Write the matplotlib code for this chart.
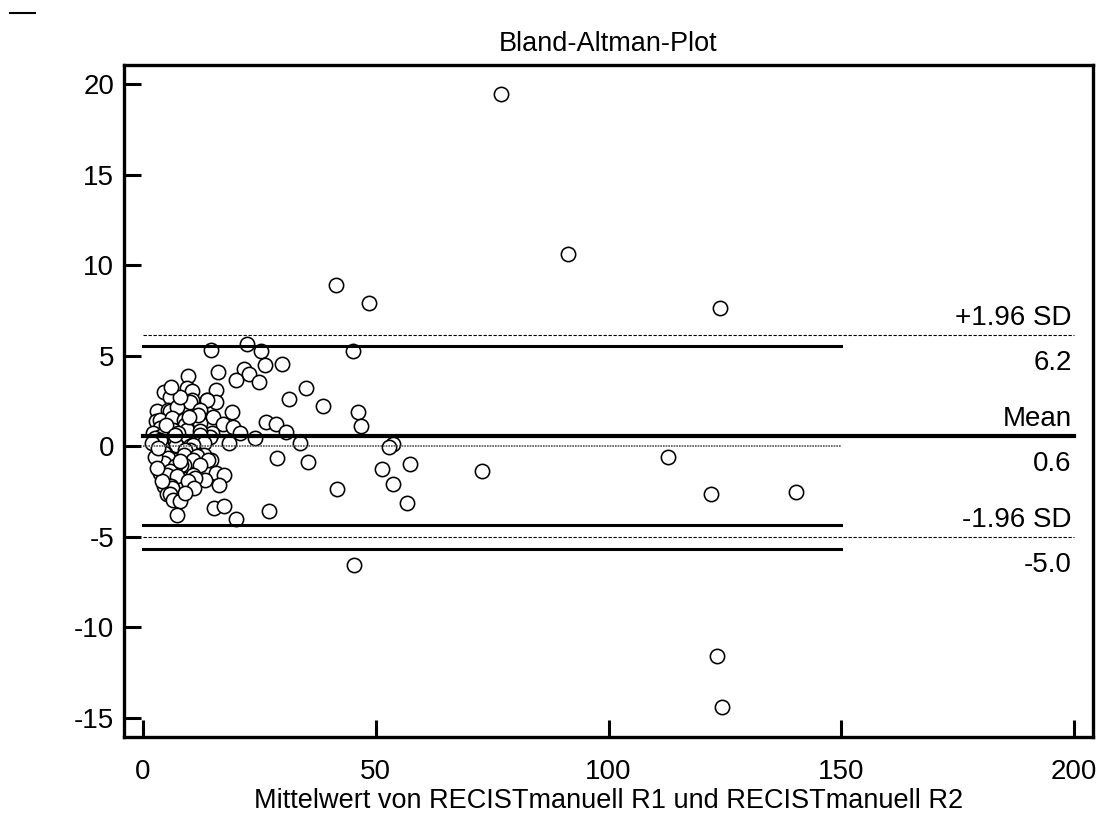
import numpy as np
import matplotlib
matplotlib.use('Agg')
from matplotlib import pyplot as plt
from matplotlib.lines import Line2D

plt.rcParams['font.family'] = ['Liberation Sans', 'DejaVu Sans']
plt.rcParams['axes.unicode_minus'] = False

# mean of the two readings (x) and their difference (y)
mean_vals = [76.9, 91.3, 124.0, 41.4, 48.6, 45.0, 35.0, 38.6, 46.2, 46.8, 33.7, 53.6, 52.8,
             35.4, 51.3, 57.4, 72.8, 41.7, 53.8, 56.7, 45.3, 112.8, 122.0, 140.3, 123.3, 124.4,
             14.7, 22.3, 25.3, 16.0, 21.6, 22.7, 19.9, 26.2, 29.9, 25.0, 15.7, 31.4, 13.8, 15.7,
             19.0, 15.1, 17.1, 19.3, 20.8, 14.8, 26.4, 28.6, 30.8, 24.1, 18.4, 12.6, 28.7, 14.7,
             15.7, 17.3, 13.3, 16.3, 15.3, 17.4, 19.9, 27.1, 14.4,
             9.7, 9.4, 10.6, 4.4, 5.8, 10.5, 10.1, 13.7, 2.9, 5.4, 5.8, 7.2, 12.2, 2.8, 3.65,
             6.2, 8.7, 11.5, 12.3, 8.9, 4.0, 3.6, 6.5, 9.4, 12.2, 2.2, 7.5, 12.3, 3.9, 2.6,
             6.5, 3.65, 6.9, 9.0, 13.0, 7.2, 10.1, 10.8, 7.0, 10.1, 8.9, 3.6, 4.7, 4.4, 8.7,
             12.2, 13.0, 11.5, 5.4, 14.0, 10.8, 3.6, 4.4, 8.7, 12.3, 8.2, 6.9, 5.8, 3.65, 5.1,
             10.8, 7.2, 11.1, 9.7, 4.4, 6.0, 6.2, 5.1, 5.8, 6.4, 7.9, 7.3, 4.0, 2.5, 2.0, 3.0,
             8.0, 11.0, 9.0, 6.0, 5.0, 8.0, 3.2, 11.8, 9.8, 6.8]
diff_vals = [19.45, 10.6, 7.64, 8.88, 7.89, 5.24, 3.22, 2.21, 1.9, 1.14, 0.19, 0.15, -0.05,
             -0.88, -1.23, -0.97, -1.36, -2.37, -2.06, -3.14, -6.58, -0.57, -2.61, -2.50, -11.6, -14.4,
             5.33, 5.65, 5.24, 4.10, 4.29, 4.01, 3.68, 4.47, 4.56, 3.55, 3.09, 2.59, 2.54, 2.47,
             1.91, 1.62, 1.23, 1.05, 0.74, 0.74, 1.36, 1.25, 0.79, 0.44, 0.20, 0.28, -0.66, -0.75,
             -1.47, -1.56, -1.84, -2.15, -3.40, -3.31, -4.0, -3.55, 0.5,
             3.86, 3.22, 3.06, 2.98, 2.74, 2.58, 2.45, 2.58, 1.93, 2.02, 1.93, 2.17, 2.02, 1.38, 1.47,
             1.56, 1.47, 1.38, 1.29, 1.20, 1.01, 1.01, 0.92, 0.92, 0.83, 0.74, 0.74, 0.64, 0.55, 0.46,
             0.46, 0.37, 0.27, 0.18, 0.18, 0.0, 0.0, 0.09, 0.09, -0.18, -0.18, -0.28, -0.37, -0.37, -0.46,
             -0.46, -0.46, -0.55, -0.64, -0.74, -0.74, -0.92, -0.92, -1.01, -1.01, -1.01, -1.1, -1.38, -1.47, -1.56,
             -1.56, -1.65, -1.75, -1.93, -2.2, -2.2, -2.29, -2.66, -2.66, -2.95, -3.03, -3.77, -1.9, -0.6, 0.2, -1.2,
             2.7, -2.3, -2.6, 3.3, 1.2, -0.8, -0.1, 1.7, 1.6, 0.6]

mean_diff = 0.58
upper_loa = 6.15
lower_loa = -5.02
upper_ci = 5.52
lower_ci = [-4.36, -5.66]

fig = plt.figure(figsize=(11.04, 8.21), dpi=100)
ax = fig.add_axes([124/1104, 1-737/821, (1093-124)/1104, (737-65)/821])

ax.plot(mean_vals, diff_vals, 'o', ms=10.3, mfc='white', mec='black', mew=1.15, zorder=2)

# reference lines
ax.plot([0, 200], [mean_diff, mean_diff], color='black', lw=3.0, zorder=3)
ax.plot([0, 150], [0, 0], color='#555555', lw=1.2, ls=(0, (1, 0.6)), zorder=3)
ax.plot([0, 200], [upper_loa, upper_loa], color='black', lw=0.8, ls=(0, (3, 1.5)), zorder=3)
ax.plot([0, 200], [lower_loa, lower_loa], color='black', lw=0.8, ls=(0, (3, 1.5)), zorder=3)
ax.plot([0, 150], [upper_ci, upper_ci], color='black', lw=2.2, zorder=3)
for v in lower_ci:
    ax.plot([0, 150], [v, v], color='black', lw=2.2, zorder=3)

fs = 20
lab_x = 199.5
for txt, v in [('+1.96 SD', upper_loa), ('Mean', mean_diff), ('-1.96 SD', lower_loa)]:
    ax.annotate(txt, (lab_x, v), xytext=(0, 3), textcoords='offset points',
                ha='right', va='bottom', fontsize=fs)
for txt, v in [('6.2', upper_loa), ('0.6', mean_diff), ('-5.0', lower_loa)]:
    ax.annotate(txt, (lab_x, v), xytext=(0, -11), textcoords='offset points',
                ha='right', va='top', fontsize=fs)

ax.set_xlim(-4.1, 204.1)
ax.set_ylim(-16.05, 21.05)
ax.set_xticks([0, 50, 100, 150, 200])
ax.set_yticks([-15, -10, -5, 0, 5, 10, 15, 20])
ax.tick_params(direction='in', length=12, width=2.2, labelsize=fs)
ax.tick_params(axis='y', pad=7)
ax.tick_params(axis='x', pad=16)
for s in ax.spines.values():
    s.set_linewidth(2.4)

ax.set_title('Bland-Altman-Plot', fontsize=19.5, pad=10)
ax.set_xlabel('Mittelwert von RECISTmanuell R1 und RECISTmanuell R2', fontsize=19.5, labelpad=2)

fig.add_artist(Line2D([10/1104, 35/1104], [1-13/821, 1-13/821], color='black', lw=1.5))

fig.savefig('out.png', dpi=100)
